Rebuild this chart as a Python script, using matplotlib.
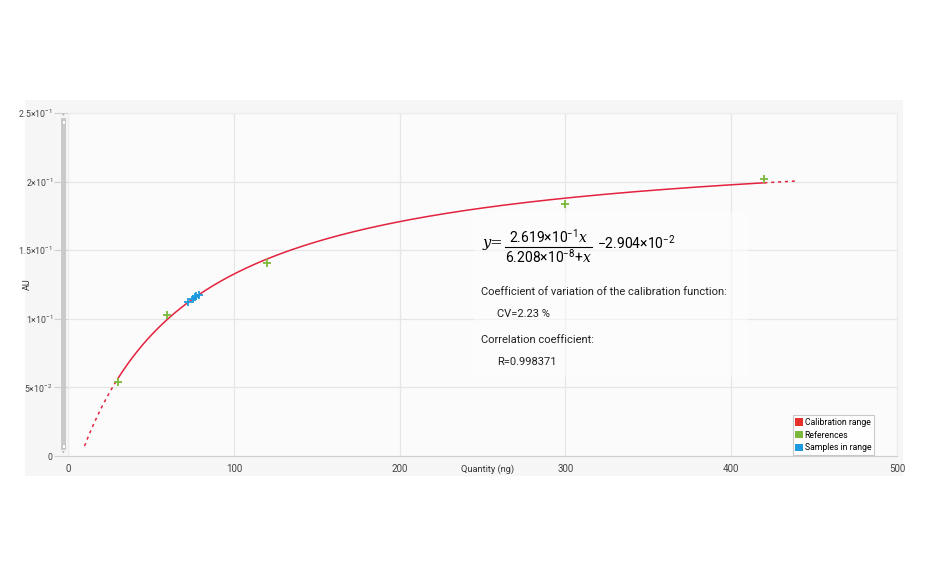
import numpy as np
import matplotlib
matplotlib.use("Agg")
import matplotlib.pyplot as plt
from matplotlib.patches import Rectangle, Patch

plt.rcParams["font.family"] = ["Roboto", "DejaVu Sans"]
plt.rcParams["mathtext.fontset"] = "custom"
plt.rcParams["mathtext.rm"] = "Roboto"
plt.rcParams["mathtext.it"] = "DejaVu Serif:italic"
plt.rcParams["mathtext.default"] = "rm"

# --- data ---
ref_x = [30, 60, 120, 300, 420]
ref_y = [0.054, 0.103, 0.141, 0.184, 0.202]
samp_x = [72.4, 75.5, 76.6, 77.4, 79.0]
samp_y = [0.112, 0.1147, 0.1156, 0.1163, 0.1177]

# calibration function shown on the chart (quantity in ng)
a_coef = 2.619e-1
k_coef = 62.08
c_coef = -2.904e-2
cal_lo, cal_hi = 30, 420
ext_lo, ext_hi = 10, 440

yticks = [0, 0.05, 0.10, 0.15, 0.20, 0.25]
ylabels = ["0", r"5×10$^{-2}$", r"1×10$^{-1}$", r"1.5×10$^{-1}$",
           r"2×10$^{-1}$", r"2.5×10$^{-1}$"]
xticks = [0, 100, 200, 300, 400, 500]


def cal(x):
    return a_coef * x / (k_coef + x) + c_coef


RED = "#e3223e"
GREEN = "#7cb83a"
BLUE = "#1e9ae0"

fig = plt.figure(figsize=(9.3, 5.76), dpi=100)
fig.patch.set_facecolor("white")

# grey panel behind the chart
fig.patches.append(Rectangle((25 / 930, 100 / 576), 878 / 930, 376 / 576,
                             transform=fig.transFigure, facecolor="#f6f6f6",
                             edgecolor="none", zorder=-5))

ax = fig.add_axes([68 / 930, 120 / 576, 829 / 930, 343 / 576])
ax.set_facecolor("#fbfbfb")
ax.set_xlim(0, 500)
ax.set_ylim(0, 0.25)

ax.set_xticks(xticks)
ax.set_yticks(yticks)
ax.set_yticklabels(ylabels)
ax.grid(True, color="#e6e6e6", linewidth=0.9)
ax.set_axisbelow(True)
for s in ["top", "right", "left"]:
    ax.spines[s].set_color("#ececec")
ax.spines["bottom"].set_color("#cfcfcf")
ax.tick_params(axis="x", length=0, pad=6, labelsize=7, labelcolor="#444444")
ax.tick_params(axis="y", length=10, color="#d0d0d0", pad=1,
               labelsize=6.3, labelcolor="#444444")

ax.set_xlabel("Quantity (ng)", fontsize=6.7, color="#333333")
ax.xaxis.set_label_coords(0.506, -0.026)
ax.set_ylabel("AU", fontsize=6.5, color="#333333")
ax.yaxis.set_label_coords(-0.043, 0.5)

# calibration curve: solid in range, dashed extrapolation
xs = np.linspace(cal_lo, cal_hi, 400)
ax.plot(xs, cal(xs), color=RED, linewidth=1.1, zorder=3)
xl = np.linspace(ext_lo, cal_lo, 50)
ax.plot(xl, cal(xl), color=RED, linewidth=1.1, linestyle=(0, (2, 2.5)), zorder=3)
xh = np.linspace(cal_hi, ext_hi, 50)
ax.plot(xh, cal(xh), color=RED, linewidth=1.1, linestyle=(0, (2, 2.5)), zorder=3)

ax.scatter(ref_x, ref_y, marker="+", s=36, color=GREEN, linewidths=1.3, zorder=4)
ax.scatter(samp_x, samp_y, marker="+", s=32, color=BLUE, linewidths=1.3, zorder=4)

# text box with equation and statistics
ax.add_patch(Rectangle((0.49, 0.23), 0.33, 0.48, transform=ax.transAxes,
                       facecolor="#fdfdfd", edgecolor="none", alpha=0.55, zorder=2))
ax.text(0.500, 0.621, "y=", transform=ax.transAxes, fontsize=10.5,
        family="DejaVu Serif", style="italic", ha="left", va="center", zorder=5)
ax.text(0.580, 0.640, r"2.619×10$^{-1}$$\mathit{x}$", transform=ax.transAxes,
        fontsize=10, ha="center", va="center", zorder=5)
ax.plot([0.527, 0.632], [0.609, 0.609], transform=ax.transAxes, color="black",
        linewidth=0.8, zorder=5)
ax.text(0.580, 0.582, r"6.208×10$^{-8}$+$\mathit{x}$", transform=ax.transAxes,
        fontsize=10, ha="center", va="center", zorder=5)
ax.text(0.638, 0.621, r"−2.904×10$^{-2}$", transform=ax.transAxes,
        fontsize=10, ha="left", va="center", zorder=5)
ax.text(0.498, 0.478, "Coefficient of variation of the calibration function:",
        transform=ax.transAxes, fontsize=8.0, color="#222222", va="center", zorder=5)
ax.text(0.518, 0.414, "CV=2.23 %", transform=ax.transAxes, fontsize=8.0,
        color="#222222", va="center", zorder=5)
ax.text(0.498, 0.338, "Correlation coefficient:", transform=ax.transAxes,
        fontsize=8.0, color="#222222", va="center", zorder=5)
ax.text(0.518, 0.274, "R=0.998371", transform=ax.transAxes, fontsize=8.0,
        color="#222222", va="center", zorder=5)

handles = [Patch(facecolor="#e8302a", label="Calibration range"),
           Patch(facecolor=GREEN, label="References"),
           Patch(facecolor=BLUE, label="Samples in range")]
leg = ax.legend(handles=handles, loc="lower right", bbox_to_anchor=(0.972, 0.003),
                fontsize=6.2, frameon=True, fancybox=False, handlelength=0.9,
                handleheight=1.0, handletextpad=0.2, labelspacing=0.45,
                borderpad=0.3, borderaxespad=0.0)
leg.get_frame().set_edgecolor("#bdbdbd")
leg.get_frame().set_linewidth(0.8)

# vertical scroll bar left of the plot
fig.patches.append(Rectangle((60.5 / 930, (576 - 450) / 576), 5.5 / 930, 332 / 576,
                             transform=fig.transFigure, facecolor="#cacaca",
                             edgecolor="none", zorder=5))
fig.patches.append(Rectangle((61.5 / 930, (576 - 124) / 576), 3.5 / 930, 4 / 576,
                             transform=fig.transFigure, facecolor="white",
                             edgecolor="#b0b0b0", linewidth=0.4, zorder=6))
fig.patches.append(Rectangle((61.5 / 930, (576 - 448) / 576), 3.5 / 930, 4 / 576,
                             transform=fig.transFigure, facecolor="white",
                             edgecolor="#b0b0b0", linewidth=0.4, zorder=6))
fig.text(63.2 / 930, (576 - 115) / 576, "▲", fontsize=2.5, color="#b0b0b0",
         ha="center", va="center", family="DejaVu Sans")
fig.text(63.2 / 930, (576 - 453) / 576, "▼", fontsize=2.5, color="#b0b0b0",
         ha="center", va="center", family="DejaVu Sans")

fig.savefig("out.png", dpi=100)
